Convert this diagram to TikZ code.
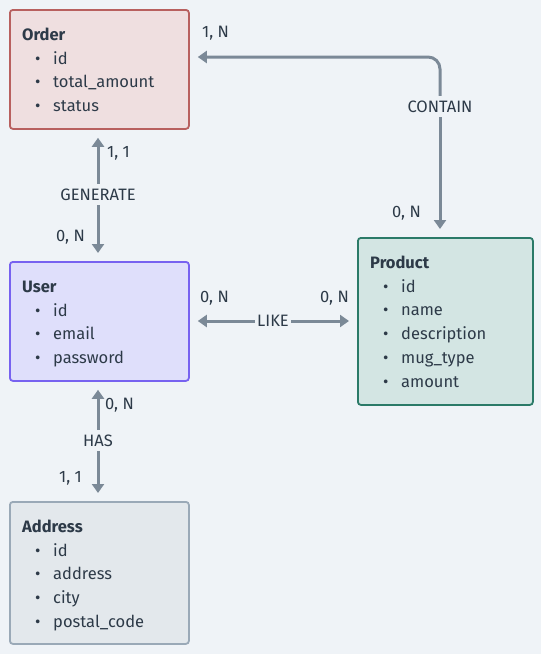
\documentclass[tikz,border=0pt]{standalone}
\usepackage{fontspec}
\setmainfont{Fira Sans}
\usetikzlibrary{arrows.meta,calc}
\definecolor{bg}{HTML}{EFF3F7}
\definecolor{txt}{HTML}{2D3A48}
\definecolor{edge}{HTML}{7B8997}
\definecolor{ordfill}{HTML}{EFDFE0}
\definecolor{orddraw}{HTML}{B8605F}
\definecolor{usrfill}{HTML}{DFDFFB}
\definecolor{usrdraw}{HTML}{7762F0}
\definecolor{prdfill}{HTML}{D3E5E3}
\definecolor{prddraw}{HTML}{2B7A68}
\definecolor{adrfill}{HTML}{E3E8EC}
\definecolor{adrdraw}{HTML}{9AA9B7}
\tikzset{
  entity/.style={rectangle, rounded corners=3pt, line width=1.8pt, anchor=north west, inner sep=0pt},
  ttl/.style={anchor=base west, inner sep=0pt, font=\fontsize{16.5}{19}\selectfont\bfseries, text=txt},
  itm/.style={anchor=base west, inner sep=0pt, text=txt},
  lbl/.style={inner sep=0pt, text=txt},
  rel/.style={inner ysep=4.5pt, inner xsep=2pt, text=txt},
  arr/.style={draw=edge, line width=3pt, -{Triangle[length=9pt,width=12pt]}},
}
\newcommand{\attrs}[4]{%
  \foreach \t [count=\i from 0] in {#4} {
    \node[itm] at (#1-18,#2+\i*23.8) {•};
    \node[itm] at (#1,#2+\i*23.8) {\t};
  }}
\begin{document}
\begin{tikzpicture}[x=1pt,y=-1pt,font=\fontsize{16.5}{19}\selectfont]
\fill[bg] (0,0) rectangle (541,654);
\useasboundingbox (0,0) rectangle (541,654);

% entities
\node[entity, draw=orddraw, fill=ordfill, minimum width=179pt, minimum height=119pt] (order) at (9,9) {};
\node[entity, draw=usrdraw, fill=usrfill, minimum width=179pt, minimum height=119pt] (user) at (9,261) {};
\node[entity, draw=prddraw, fill=prdfill, minimum width=175pt, minimum height=167pt] (product) at (357,237) {};
\node[entity, draw=adrdraw, fill=adrfill, minimum width=179pt, minimum height=142pt] (address) at (9,501) {};

\node[ttl] (ordt) at (22,40) {Order};
\attrs{53}{64}{}{id,total\_amount,status}
\node[ttl] (usrt) at (22,292) {User};
\attrs{53}{316}{}{id,email,password}
\node[ttl] (prdt) at (370,268) {Product};
\attrs{401}{292}{}{id,name,description,mug\_type,amount}
\node[ttl] (adrt) at (22,532) {Address};
\attrs{53}{556}{}{id,address,city,postal\_code}

% relationship labels
\node[rel] (gen) at (98,194.5) {GENERATE};
\node[rel] (like) at (273,321) {LIKE};
\node[rel] (has) at (98,440.5) {HAS};
\node[rel] (cont) at (440,106.5) {CONTAIN};

% connectors
\draw[arr, shorten >=8pt] (gen.north) -- (gen.north |- order.south);
\draw[arr, shorten >=8pt] (gen.south) -- (gen.south |- user.north);
\draw[arr, shorten >=8pt] (like.west) -- (like.west -| user.east);
\draw[arr, shorten >=8pt] (like.east) -- (like.east -| product.west);
\draw[arr, shorten >=8pt] (has.north) -- (has.north |- user.south);
\draw[arr, shorten >=8pt] (has.south) -- (has.south |- address.north);
\coordinate (ordin) at ($(order.north east)+(8,48)$);
\draw[arr, rounded corners=12pt] (cont.north) -- (cont.north |- ordin) -- (ordin);
\draw[arr, shorten >=8pt] (cont.south) -- (cont.south |- product.north);

% cardinalities
\node[lbl, anchor=west] (c1) at (202,33) {1, N};
\node[lbl, anchor=west] (c2) at (392,213) {0, N};
\node[lbl, anchor=west] (c3) at (107,153) {1, 1};
\node[lbl, anchor=west] (c4) at (56,237) {0, N};
\node[lbl, anchor=west] (c5) at (200,298) {0, N};
\node[lbl, anchor=west] (c6) at (320,298) {0, N};
\node[lbl, anchor=west] (c7) at (105,405) {0, N};
\node[lbl, anchor=west] (c8) at (59,478) {1, 1};
\end{tikzpicture}
\end{document}
